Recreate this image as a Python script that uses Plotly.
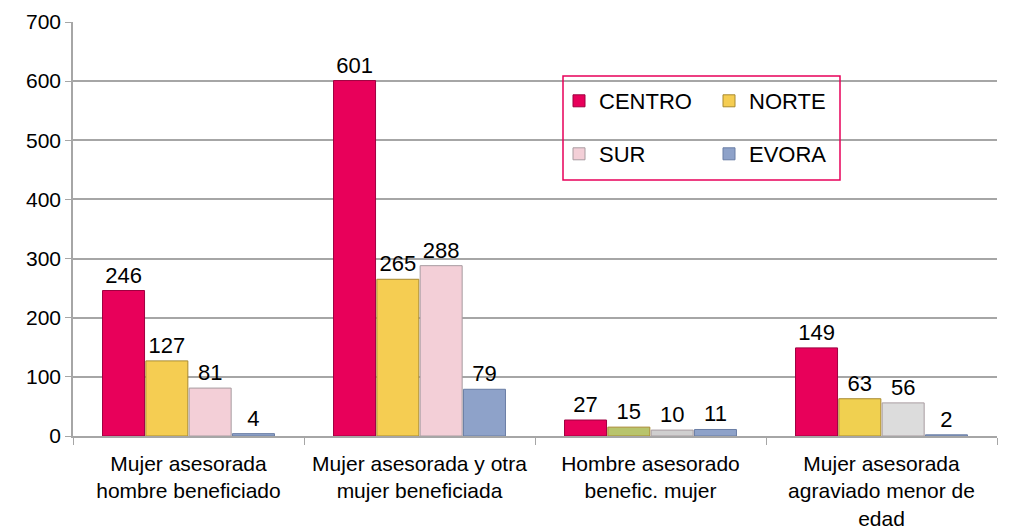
import plotly.graph_objects as go

categories = ["Mujer asesorada<br>hombre beneficiado",
              "Mujer asesorada y otra<br>mujer beneficiada",
              "Hombre asesorado<br>benefic. mujer",
              "Mujer asesorada<br>agraviado menor de<br>edad"]
series_names = ["CENTRO", "NORTE", "SUR", "EVORA"]
centro = [246, 601, 27, 149]
norte = [127, 265, 15, 63]
sur = [81, 288, 10, 56]
evora = [4, 79, 11, 2]

colors = {
    "CENTRO": ["#e8005a", "#e8005a", "#e8005a", "#e8005a"],
    "NORTE": ["#f5cd52", "#f5cd52", "#b8c46c", "#f0d050"],
    "SUR": ["#f3cfd7", "#f3cfd7", "#cfcfcf", "#dcdcdc"],
    "EVORA": ["#8ea2c9", "#8ea2c9", "#8ea2c9", "#8ea2c9"],
}
borders = {"CENTRO": "#9e0040", "NORTE": "#a88a30", "SUR": "#a89ca0", "EVORA": "#6a7ea5"}

FONT = "Liberation Sans, Arial, sans-serif"
values = [centro, norte, sur, evora]
legend_ids = ["legend", "legend2", "legend3", "legend4"]

fig = go.Figure()
for name, vals, lid in zip(series_names, values, legend_ids):
    fig.add_trace(go.Bar(
        name=name, x=categories, y=vals,
        marker=dict(color=colors[name], line=dict(color=borders[name], width=1)),
        text=vals, textposition="outside", cliponaxis=False,
        textfont=dict(family=FONT, size=22, color="#000000"),
        legend=lid, showlegend=True,
    ))

# page body has an 8px margin; plot area target: x 73..997, y 22..436 (window px)
OFF = 8
L, R, T, B = 73 - OFF, 13, 22 - OFF, 93
W, H = 1010 - OFF, 529 - OFF

def px_x(p):
    return (p - 73) / 924

def px_y(p):
    return (436 - p) / 414

leg_common = dict(bgcolor="rgba(0,0,0,0)", font=dict(family=FONT, size=22, color="#000"),
                  xanchor="left", yanchor="middle", itemwidth=30)

fig.update_layout(
    width=W, height=H,
    margin=dict(l=L, r=R, t=T, b=B, autoexpand=False),
    paper_bgcolor="white", plot_bgcolor="white",
    barmode="group", bargap=0.25, bargroupgap=0.03,
    showlegend=True,
    font=dict(family=FONT, size=21, color="#000"),
    legend=dict(x=px_x(559), y=px_y(101), **leg_common),
    legend2=dict(x=px_x(709), y=px_y(101), **leg_common),
    legend3=dict(x=px_x(559), y=px_y(154), **leg_common),
    legend4=dict(x=px_x(709), y=px_y(154), **leg_common),
    yaxis=dict(range=[0, 700], dtick=100, showgrid=True, gridcolor="#a6a6a6", gridwidth=1.5,
               showline=True, linecolor="#a6a6a6", linewidth=1.5, ticks="outside", ticklen=6,
               tickcolor="#a6a6a6", tickfont=dict(size=21, family=FONT), zeroline=False,
               automargin=False),
    xaxis=dict(showline=True, linecolor="#a6a6a6", linewidth=1.5, ticks="outside", ticklen=7,
               tickson="boundaries", tickcolor="#a6a6a6", tickfont=dict(size=21, family=FONT),
               ticklabelstandoff=8, automargin=False),
    shapes=[dict(type="rect", xref="paper", yref="paper",
                 x0=px_x(563), x1=px_x(840), y0=px_y(180), y1=px_y(76),
                 line=dict(color="#e8005a", width=1.5))],
)

fig.write_html("out.html")
